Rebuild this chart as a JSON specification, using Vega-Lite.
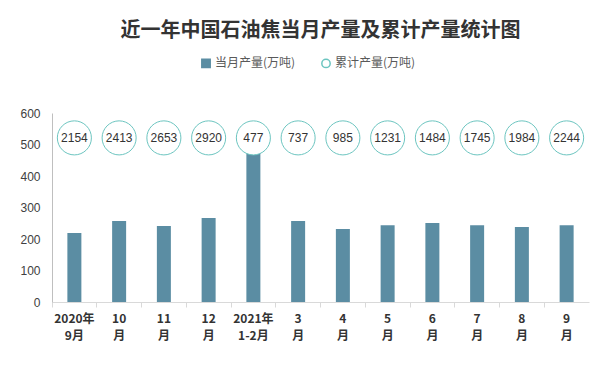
{
  "$schema": "https://vega.github.io/schema/vega-lite/v6.json",
  "width": 537,
  "height": 189,
  "autosize": {"type": "none"},
  "padding": {"left": 52, "top": 113, "right": 26, "bottom": 67},
  "background": "white",
  "title": {
    "text": "近一年中国石油焦当月产量及累计产量统计图",
    "font": "Noto Sans CJK SC",
    "fontSize": 20,
    "fontWeight": "bold",
    "color": "#333333",
    "anchor": "middle",
    "offset": 16
  },
  "data": {
    "values": [
      {"month": "2020年9月", "monthly": 219, "cumulative": 2154},
      {"month": "10月", "monthly": 257, "cumulative": 2413},
      {"month": "11月", "monthly": 241, "cumulative": 2653},
      {"month": "12月", "monthly": 267, "cumulative": 2920},
      {"month": "2021年1-2月", "monthly": 477, "cumulative": 477},
      {"month": "3月", "monthly": 257, "cumulative": 737},
      {"month": "4月", "monthly": 232, "cumulative": 985},
      {"month": "5月", "monthly": 244, "cumulative": 1231},
      {"month": "6月", "monthly": 251, "cumulative": 1484},
      {"month": "7月", "monthly": 244, "cumulative": 1745},
      {"month": "8月", "monthly": 238, "cumulative": 1984},
      {"month": "9月", "monthly": 244, "cumulative": 2244}
    ]
  },
  "encoding": {
    "x": {
      "field": "month",
      "type": "nominal",
      "sort": null,
      "scale": {"paddingInner": 0, "paddingOuter": 0},
      "axis": {
        "title": null,
        "labelAngle": 0,
        "bandPosition": 0,
        "ticks": true,
        "tickSize": 5,
        "tickColor": "#d9d9d9",
        "domainColor": "#d9d9d9",
        "labelFont": "Noto Sans CJK SC",
        "labelFontWeight": "bold",
        "labelFontSize": 12,
        "labelColor": "#333333",
        "labelPadding": 6,
        "labelLineHeight": 17,
        "labelExpr": "indexof(datum.value,'年')>0 ? [slice(datum.value,0,indexof(datum.value,'年')+1), slice(datum.value,indexof(datum.value,'年')+1)] : [replace(datum.value,'月',''), '月']"
      }
    }
  },
  "layer": [
    {
      "mark": {"type": "bar", "width": 14},
      "encoding": {
        "y": {
          "field": "monthly",
          "type": "quantitative",
          "scale": {"domain": [0, 600]},
          "axis": {
            "title": null,
            "values": [0, 100, 200, 300, 400, 500, 600],
            "labelOverlap": false,
            "grid": false,
            "ticks": false,
            "domainColor": "#bfbfbf",
            "labelFont": "Liberation Sans",
            "labelFontSize": 12,
            "labelColor": "#404040",
            "labelPadding": 12
          }
        },
        "color": {
          "datum": "当月产量(万吨)",
          "type": "nominal",
          "scale": {"domain": ["当月产量(万吨)", "累计产量(万吨)"], "range": ["#5b8da3", "#6cc5c0"]},
          "legend": {
            "title": null,
            "orient": "none",
            "legendX": 148,
            "legendY": -56,
            "direction": "horizontal",
            "labelFont": "Noto Sans CJK SC",
            "labelFontSize": 12,
            "labelColor": "#595959",
            "symbolSize": 70,
            "columnPadding": 22,
            "labelOffset": 3,
            "encode": {
              "symbols": {
                "update": {
                  "shape": {"signal": "datum.value === '当月产量(万吨)' ? 'square' : 'circle'"},
                  "fillOpacity": {"signal": "datum.value === '当月产量(万吨)' ? 1 : 0"},
                  "stroke": {"signal": "datum.value === '当月产量(万吨)' ? '#5b8da3' : '#6cc5c0'"},
                  "strokeWidth": {"value": 1.5}
                }
              }
            }
          }
        }
      }
    },
    {
      "mark": {"type": "point", "shape": "circle", "filled": false, "fill": "white", "size": 1160, "strokeWidth": 1, "opacity": 1},
      "encoding": {
        "y": {
          "datum": 521,
          "type": "quantitative",
          "axis": {
            "title": null,
            "values": [0, 100, 200, 300, 400, 500, 600],
            "labelOverlap": false,
            "grid": false,
            "ticks": false,
            "domainColor": "#bfbfbf",
            "labelFont": "Liberation Sans",
            "labelFontSize": 12,
            "labelColor": "#404040",
            "labelPadding": 12
          }
        },
        "color": {"datum": "累计产量(万吨)", "type": "nominal"}
      }
    },
    {
      "mark": {"type": "text", "font": "Liberation Sans", "fontSize": 12, "color": "#333333"},
      "encoding": {
        "y": {
          "datum": 521,
          "type": "quantitative",
          "axis": {
            "title": null,
            "values": [0, 100, 200, 300, 400, 500, 600],
            "labelOverlap": false,
            "grid": false,
            "ticks": false,
            "domainColor": "#bfbfbf",
            "labelFont": "Liberation Sans",
            "labelFontSize": 12,
            "labelColor": "#404040",
            "labelPadding": 12
          }
        },
        "text": {"field": "cumulative", "type": "quantitative"}
      }
    }
  ],
  "config": {
    "view": {"stroke": null}
  }
}
